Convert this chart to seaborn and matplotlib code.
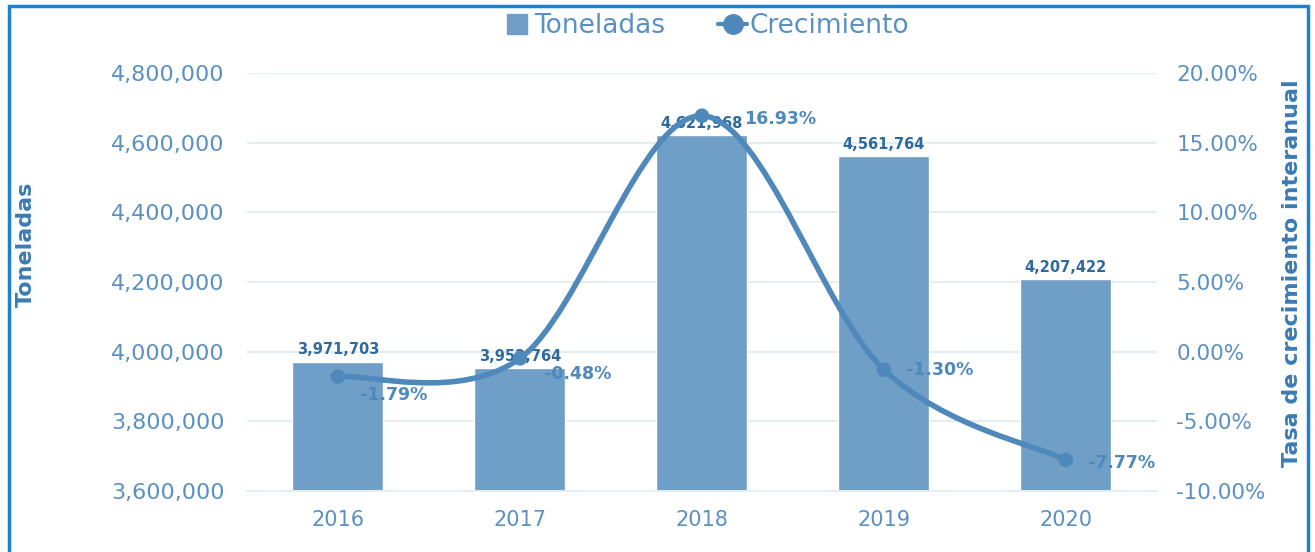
import numpy as np
import pandas as pd
import matplotlib
matplotlib.use("Agg")
import matplotlib.pyplot as plt
import seaborn as sns
from matplotlib.path import Path
from matplotlib.patches import PathPatch, Rectangle
from matplotlib.lines import Line2D
from matplotlib.ticker import FuncFormatter

years = ["2016", "2017", "2018", "2019", "2020"]
toneladas = [3971703, 3952764, 4621968, 4561764, 4207422]
crecimiento = [-1.79, -0.48, 16.93, -1.30, -7.77]
left_ticks = [3600000, 3800000, 4000000, 4200000, 4400000, 4600000, 4800000]
right_ticks = [-10, -5, 0, 5, 10, 15, 20]

sns.set_theme(style="white")
plt.rcParams['font.family'] = ['DejaVu Sans']

BAR = "#6f9fc6"
LINE = "#4f88ba"
TICK = "#5b91c2"
TITLE = "#3a7bb3"
LABEL = "#2f6a9f"
GRID = "#e4ecf4"

fig = plt.figure(figsize=(13.15, 5.52), dpi=100)
ax = fig.add_axes([0.1878, 0.1105, 0.692, 0.7573])
ax2 = ax.twinx()

df = pd.DataFrame({"year": years, "ton": toneladas, "pct": crecimiento})
sns.barplot(data=df, x="year", y="ton", color=BAR, width=0.5, ax=ax,
            saturation=1, zorder=2)
ax.set_xlim(-0.5, 4.5)
ax.set_ylim(left_ticks[0], left_ticks[-1])
ax.set_yticks(left_ticks)
ax.yaxis.set_major_formatter(FuncFormatter(lambda v, p: f"{int(v):,}"))
ax.grid(axis="y", color=GRID, linewidth=1.5, zorder=0)
ax.set_axisbelow(True)
for s in ax.spines.values():
    s.set_visible(False)
for s in ax2.spines.values():
    s.set_visible(False)
ax.spines["bottom"].set_visible(True)
ax.spines["bottom"].set_color(GRID)
ax.spines["bottom"].set_linewidth(1.5)
ax.tick_params(axis="y", length=0, pad=16, labelsize=16, labelcolor=TICK)
ax.tick_params(axis="x", length=0, pad=14, labelsize=15, labelcolor=TICK)
ax.set_xlabel("")
ax.set_ylabel("Toneladas", fontsize=16, fontweight="bold", color=TITLE)
ax.yaxis.set_label_coords(-0.2325, 0.59)

ax2.set_ylim(right_ticks[0], right_ticks[-1])
ax2.set_yticks(right_ticks)
ax2.yaxis.set_major_formatter(FuncFormatter(lambda v, p: f"{v:.2f}%"))
ax2.tick_params(axis="y", length=0, pad=14, labelsize=15.5, labelcolor=TICK)
ax2.set_ylabel("Tasa de crecimiento interanual", fontsize=16, fontweight="bold",
               color=TITLE, rotation=90)
ax2.yaxis.set_label_coords(1.137, 0.52)
ax2.grid(False)

# smooth spline (Catmull-Rom as cubic Bezier) through the data points
xs = np.arange(len(years), dtype=float)
ys = np.array(crecimiento, dtype=float)
P = np.column_stack([xs, ys])
Pext = np.vstack([P[0], P, P[-1]])
verts = [tuple(P[0])]
codes = [Path.MOVETO]
for i in range(len(P) - 1):
    p0, p1, p2, p3 = Pext[i], Pext[i + 1], Pext[i + 2], Pext[i + 3]
    c1 = p1 + (p2 - p0) / 6.0
    c2 = p2 - (p3 - p1) / 6.0
    verts += [tuple(c1), tuple(c2), tuple(p2)]
    codes += [Path.CURVE4] * 3
ax2.add_patch(PathPatch(Path(verts, codes), facecolor="none", edgecolor=LINE,
                        linewidth=4, zorder=3))
sns.scatterplot(x=xs, y=ys, ax=ax2, color=LINE, s=110, edgecolor="none",
                zorder=4, legend=False)

# bar labels
for i, v in enumerate(toneladas):
    ax.annotate(f"{v:,}", (i, v), xytext=(0, 3), textcoords="offset points",
                ha="center", va="bottom", fontsize=10.5, fontweight="bold",
                color=LABEL, zorder=5)
pct_offsets = [(16, -13), (17, -11), (30, -2), (16, 0), (16, -2)]
for i, v in enumerate(crecimiento):
    dx, dy = pct_offsets[i]
    ax2.annotate(f"{v:.2f}%", (i, v), xytext=(dx, dy), textcoords="offset points",
                 ha="left", va="center", fontsize=12.5, fontweight="bold",
                 color=LINE, zorder=6)

# legend
handles = [
    Line2D([], [], marker="s", linestyle="none", markersize=15, color=BAR),
    Line2D([], [], marker="o", linestyle="-", linewidth=3, markersize=14, color=LINE),
]
fig.legend(handles, ["Toneladas", "Crecimiento"], loc="center",
           bbox_to_anchor=(0.537, 0.952), ncol=2, frameon=False, fontsize=19,
           labelcolor=TICK, handlelength=1.1, handletextpad=0.1, columnspacing=2.0)

# outer border
fig.patches.append(Rectangle((0.0065, -0.01), 0.988, 0.9985, transform=fig.transFigure,
                             fill=False, edgecolor="#1f80cc", linewidth=2.5))

fig.savefig("out.png", dpi=100)
